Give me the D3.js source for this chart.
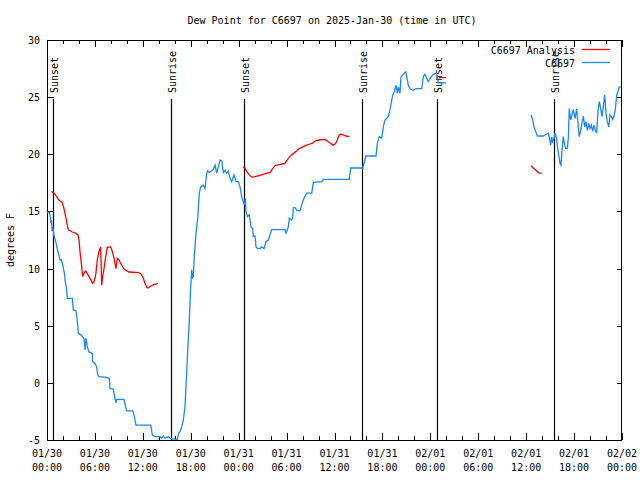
<!DOCTYPE html>
<html><head><meta charset="utf-8">
<script src="https://cdn.jsdelivr.net/npm/d3@7"></script>
<style>
body{margin:0;background:#fff}
text{font-family:"DejaVu Sans Mono",monospace;font-size:10px;fill:#000}
</style></head><body>
<svg id="c" width="640" height="480"></svg>
<script>
const title = "Dew Point for C6697 on 2025-Jan-30 (time in UTC)";
const yLabel = "degrees F";
const yTicks = [-5, 0, 5, 10, 15, 20, 25, 30];
const xMajorHours = [0, 6, 12, 18, 24, 30, 36, 42, 48, 54, 60, 66, 72];
const sunHours = [0.79, 15.56, 24.7, 39.5, 48.8, 63.52];
const sunLabels = ["Sunset", "Sunrise", "Sunset", "Sunrise", "Sunset", "Sunrise"];
const seriesNames = ["C6697 Analysis", "C6697"];

// Observations (C6697): hours after 2025-01-30 00:00 UTC, degrees F (null = gap)
const obsHours = [0,0.29,0.44,0.5,0.56,0.63,0.75,0.88,1.13,1.38,1.63,1.79,1.94,2.22,2.25,2.44,2.54,3.17,3.29,3.63,3.79,3.92,4.22,4.63,4.76,4.88,5.05,5.26,5.67,5.72,6.01,6.22,6.35,6.51,7.26,7.8,7.89,8.3,8.51,8.64,8.73,9.64,9.85,9.98,10.73,10.89,11.14,12.99,13.19,13.52,14.15,14.36,14.56,14.78,15.19,15.4,15.62,16.32,16.49,16.65,16.87,17.07,17.28,17.41,17.59,17.82,17.99,18.12,18.22,18.32,18.44,18.66,18.87,19.07,19.25,19.57,19.78,20.0,20.12,20.32,20.62,20.82,21.04,21.25,21.45,21.66,21.88,22.08,22.29,22.5,22.7,22.92,23.13,23.42,23.67,23.95,24.17,24.38,24.58,24.71,24.83,24.92,25.08,25.33,25.54,25.76,25.83,26.05,26.17,26.38,26.67,26.88,27.17,27.42,27.71,27.92,28.14,29.8,29.93,30.22,30.34,30.64,30.77,30.84,31.05,31.27,31.68,31.89,32.09,32.31,32.52,33.15,33.35,34.4,34.6,37.85,38.03,39.53,39.94,41.2,41.36,41.61,41.91,42.11,42.32,42.74,42.95,43.29,43.49,43.7,43.86,43.99,44.2,44.33,44.54,44.74,44.92,45.04,45.24,45.45,45.87,46.21,46.92,47.12,47.33,47.55,47.75,47.96,48.37,48.71,48.87,49.0,49.96,
  55.0,
  60.61,60.82,60.98,61.19,61.4,62.15,62.48,62.77,62.9,63.07,63.2,63.32,63.49,63.61,63.82,63.95,64.11,64.24,64.36,64.49,64.65,64.83,64.95,65.15,65.28,65.4,65.58,65.74,65.9,66.12,66.33,66.49,66.65,66.83,66.99,67.16,67.33,67.49,67.66,67.83,68.0,68.16,68.33,68.5,68.66,68.83,69.0,69.16,69.33,69.5,69.66,69.83,70.0,70.16,70.34,70.5,70.66,70.83,71.0,71.16,71.34,71.5,71.66,71.84];
const obsValues = [14.9,14.9,14.5,14.0,14.25,13.4,13.55,12.85,12.25,11.45,10.75,10.8,10.4,9.45,9.0,8.3,7.4,7.4,6.4,6.3,5.5,4.35,4.2,3.9,2.9,3.9,3.15,2.7,2.6,1.85,1.7,1.4,0.7,0.55,0.5,0.4,-0.5,-0.55,-1.35,-1.75,-1.45,-1.45,-2.1,-2.45,-2.45,-2.8,-3.7,-3.7,-4.55,-4.7,-4.7,-4.85,-4.65,-4.85,-4.7,-4.85,-4.9,-4.95,-4.4,-4.3,-3.85,-3.25,-2.1,-0.2,2.4,5.5,8.4,9.9,9.2,9.3,11.05,13.1,14.4,16.6,17.15,17.3,17.0,18.35,18.55,18.4,18.55,18.7,19.05,18.35,18.9,19.5,19.45,18.4,18.6,18.35,18.5,17.9,17.6,18.2,17.6,17.6,17.15,16.3,15.85,15.55,16.15,15.0,14.55,14.7,13.65,13.5,12.8,12.85,11.9,11.75,11.75,11.9,11.75,12.35,12.5,12.95,13.4,13.4,13.1,13.65,14.4,14.25,14.55,15.3,15.35,15.1,15.05,15.55,16.0,16.35,16.6,16.6,17.55,17.6,17.8,17.8,18.8,18.8,19.85,19.85,20.95,21.55,21.4,22.4,23.0,23.3,23.9,25.2,25.5,26.05,25.35,25.9,25.35,26.8,26.95,27.1,27.2,26.8,26.05,25.75,25.6,25.75,25.75,26.8,27.0,26.65,26.35,26.65,27.0,27.1,26.85,26.25,26.25,
  null,
  23.45,23.0,22.4,22.0,21.6,21.6,21.75,21.85,21.55,20.8,21.5,21.1,21.4,21.85,21.4,20.5,19.8,19.2,19.05,20.4,21.55,20.8,20.5,20.5,21.4,24.0,23.0,23.45,23.9,23.15,23.95,22.7,21.55,22.1,22.7,23.35,22.4,22.85,22.1,22.7,22.25,22.55,22.0,22.55,22.1,21.85,23.9,24.6,24.0,23.3,24.15,25.2,23.6,22.85,22.4,23.45,23.3,23.05,23.35,23.9,25.2,25.5,25.9,25.9];

// Analysis (C6697 Analysis)
const anaHours = [0.54,0.88,1.21,1.5,1.92,2.13,2.34,2.54,2.67,3.17,3.59,3.88,4.01,4.13,4.3,4.47,4.63,4.85,5.26,5.72,5.89,6.1,6.3,6.51,6.72,6.85,6.97,7.14,7.35,7.55,7.98,8.18,8.39,8.64,8.8,9.02,9.23,9.64,10.27,11.52,11.81,12.06,12.27,12.56,12.77,13.06,13.4,13.9,
  19.0,
  24.58,24.79,25.0,25.33,25.63,26.05,26.88,27.3,27.92,28.21,28.55,29.39,29.8,30.02,30.34,30.64,30.93,31.27,31.59,32.02,32.52,32.93,33.27,33.68,34.1,34.6,34.94,35.22,35.53,35.85,36.15,36.35,36.6,36.81,37.1,37.44,37.85,
  43.0,
  49.09,49.96,
  55.0,
  60.61,60.9,61.23,61.52,61.73,61.95];
const anaValues = [16.75,16.6,16.3,16.0,15.75,15.25,14.55,13.8,13.4,13.2,13.1,12.95,12.5,11.5,10.45,9.3,9.6,9.8,9.3,8.7,8.85,9.45,10.75,11.5,11.9,8.55,9.3,10.0,11.05,11.85,11.9,11.5,10.9,10.0,10.9,10.75,10.45,9.95,9.7,9.65,9.5,9.15,8.7,8.3,8.35,8.5,8.6,8.7,
  null,
  18.9,18.8,18.5,18.2,18.0,18.05,18.2,18.3,18.4,18.7,19.0,19.15,19.2,19.45,19.75,19.95,20.1,20.3,20.5,20.65,20.8,20.9,21.0,21.2,21.25,21.3,21.25,21.1,20.95,20.8,20.95,21.25,21.7,21.75,21.7,21.6,21.55,
  null,
  26.7,26.7,
  null,
  19.0,18.8,18.6,18.4,18.35,18.35];

const base = Date.UTC(2025, 0, 30);
const toDate = h => new Date(base + h * 3600e3);
const margin = {left: 47, right: 18, top: 40, bottom: 40};
const W = 640, H = 480;
const x = d3.scaleUtc().domain([toDate(0), toDate(72)]).range([margin.left, W - margin.right]);
const y = d3.scaleLinear().domain([-5, 30]).range([H - margin.bottom, margin.top]);
const svg = d3.select("#c");

svg.append("text").attr("x", 332).attr("y", 24).attr("text-anchor", "middle").text(title);

// y axis ticks and labels
const gy = svg.append("g");
yTicks.forEach(v => {
  gy.append("line").attr("x1", x.range()[0]).attr("x2", x.range()[0] + 7)
    .attr("y1", Math.round(y(v)) + 0.5).attr("y2", Math.round(y(v)) + 0.5).attr("stroke", "#000");
  gy.append("line").attr("x1", x.range()[1] - 5).attr("x2", x.range()[1])
    .attr("y1", Math.round(y(v)) + 0.5).attr("y2", Math.round(y(v)) + 0.5).attr("stroke", "#000");
  gy.append("text").attr("x", 40).attr("y", y(v) + 4).attr("text-anchor", "end").text(v);
});
svg.append("text").attr("transform", `translate(14,240) rotate(-90)`).attr("text-anchor", "middle").text(yLabel);

// x axis ticks
const gx = svg.append("g");
const minor = d3.utcHour.every(2).range(toDate(0), toDate(72.01));
minor.forEach(d => {
  const isMajor = d.getUTCHours() % 6 === 0;
  const len = isMajor ? 7 : 4;
  const px = Math.round(x(d)) + 0.5;
  gx.append("line").attr("x1", px).attr("x2", px).attr("y1", y.range()[0]).attr("y2", y.range()[0] - len).attr("stroke", "#000");
  gx.append("line").attr("x1", px).attr("x2", px).attr("y1", y.range()[1]).attr("y2", y.range()[1] + len).attr("stroke", "#000");
});
const fmtD = d3.utcFormat("%m/%d"), fmtT = d3.utcFormat("%H:%M");
xMajorHours.forEach(h => {
  const d = toDate(h);
  gx.append("text").attr("x", x(d)).attr("y", 457).attr("text-anchor", "middle").text(fmtD(d));
  gx.append("text").attr("x", x(d)).attr("y", 471).attr("text-anchor", "middle").text(fmtT(d));
});

// sun lines
sunHours.forEach((h, i) => {
  const px = Math.round(x(toDate(h))) + 0.5;
  svg.append("line").attr("x1", px).attr("x2", px).attr("y1", 99).attr("y2", y.range()[0])
    .attr("stroke", "#000").attr("stroke-width", 1.2);
  svg.append("text").attr("transform", `translate(${px + 4.5},93) rotate(-90)`).text(sunLabels[i]);
});

// frame
svg.append("rect").attr("x", margin.left + 0.5).attr("y", margin.top + 0.5)
  .attr("width", W - margin.left - margin.right - 1).attr("height", H - margin.top - margin.bottom)
  .attr("fill", "none").attr("stroke", "#000");

const line = d3.line().defined(d => d.v !== null).x(d => x(toDate(d.h))).y(d => y(d.v));
const obs = obsHours.map((h, i) => ({h, v: obsValues[i]}));
const ana = anaHours.map((h, i) => ({h, v: anaValues[i]}));
const colors = ["#ff0000", "#1a86ff"];
svg.append("path").datum(ana).attr("d", line).attr("fill", "none").attr("stroke", colors[0]).attr("stroke-width", 1.3);
svg.append("path").datum(obs).attr("d", line).attr("fill", "none").attr("stroke", colors[1]).attr("stroke-width", 1.3);

// legend
seriesNames.forEach((n, i) => {
  const ly = 49.5 + i * 13;
  svg.append("text").attr("x", 575).attr("y", ly + 4).attr("text-anchor", "end").text(n);
  svg.append("line").attr("x1", 582).attr("x2", 610).attr("y1", ly).attr("y2", ly)
    .attr("stroke", colors[i]).attr("stroke-width", 1.3);
});
</script></body></html>
